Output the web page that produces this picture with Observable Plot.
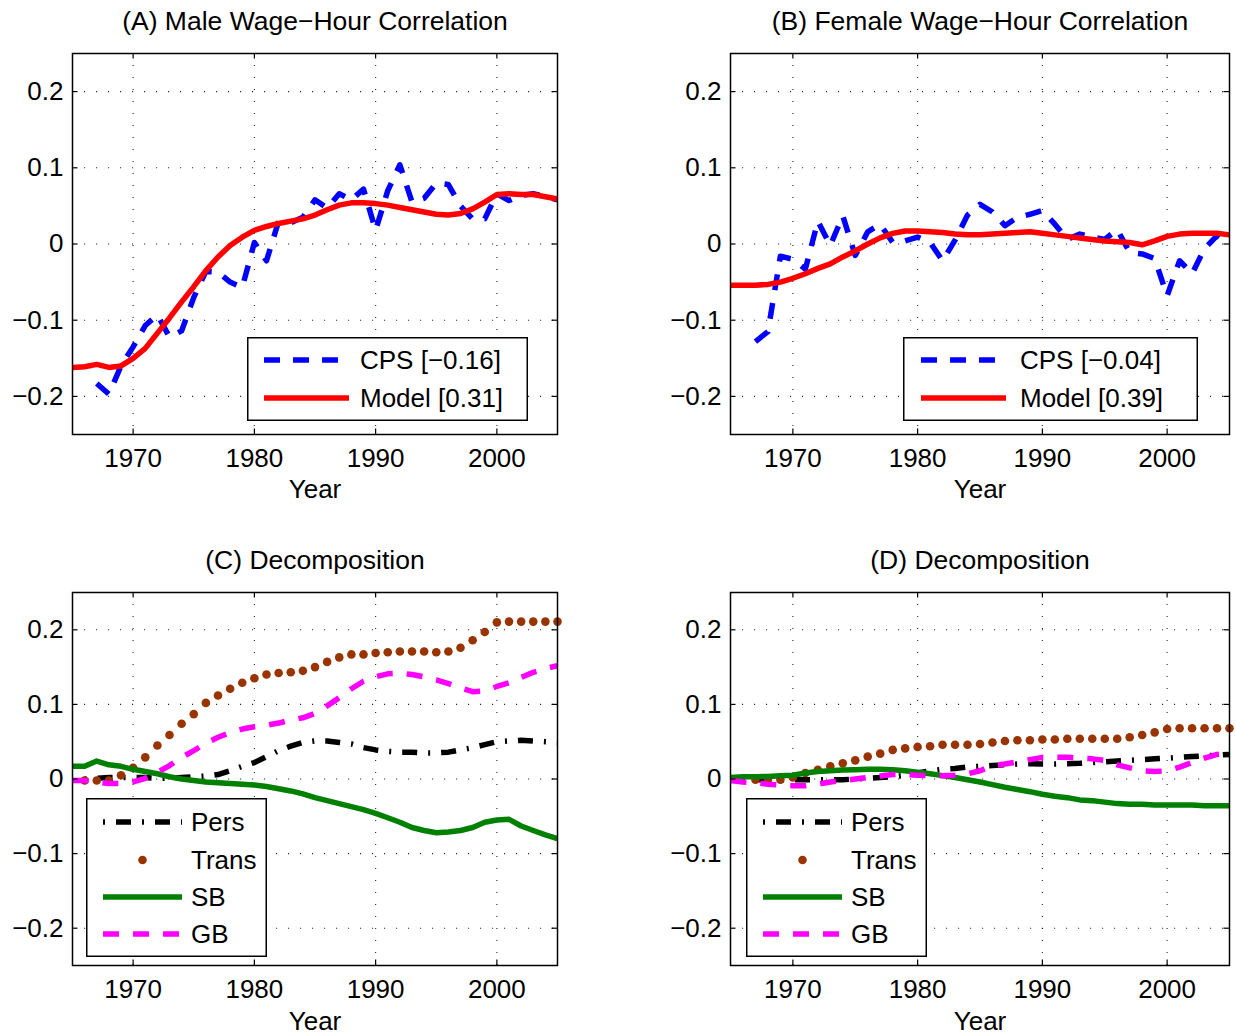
<!DOCTYPE html>
<html>
<head>
<meta charset="utf-8">
<script src="https://cdn.jsdelivr.net/npm/d3@7"></script>
<script src="https://cdn.jsdelivr.net/npm/@observablehq/plot@0.6"></script>
<style>
  html, body { margin: 0; padding: 0; background: #fff; }
  #root { position: relative; width: 1236px; height: 1034px; overflow: hidden; background: #fff;
          font-family: "Liberation Sans", Arial, Helvetica, sans-serif; }
  #root svg { position: absolute; overflow: visible; }
</style>
</head>
<body>
<div id="root"></div>
<script>
// ---------------- DATA ----------------
const years = [1965,1966,1967,1968,1969,1970,1971,1972,1973,1974,1975,1976,1977,1978,1979,
  1980,1981,1982,1983,1984,1985,1986,1987,1988,1989,1990,1991,1992,1993,1994,1995,1996,1997,
  1998,1999,2000,2001,2002,2003,2004,2005];
const xTicks = [1970, 1980, 1990, 2000];
const yTicks = [-0.2, -0.1, 0, 0.1, 0.2];

// Panel A: male wage-hour correlation
const maleCPS = [null, null, -0.183, -0.197, -0.16, -0.135, -0.107, -0.093, -0.122, -0.114,
  -0.07, -0.036, -0.037, -0.05, -0.057, 0.002, -0.022, 0.03, 0.028, 0.035,
  0.058, 0.047, 0.066, 0.058, 0.072, 0.018, 0.07, 0.104, 0.055, 0.06,
  0.08, 0.078, 0.05, 0.033, 0.033, 0.066, 0.057, 0.064, 0.066, 0.062, 0.058];
const maleModel = [-0.162, -0.161, -0.158, -0.162, -0.160, -0.150, -0.137, -0.117, -0.097, -0.076,
  -0.056, -0.035, -0.017, -0.002, 0.009, 0.018, 0.023, 0.027, 0.030, 0.033,
  0.038, 0.045, 0.051, 0.054, 0.054, 0.053, 0.051, 0.048, 0.045, 0.042,
  0.039, 0.038, 0.040, 0.046, 0.055, 0.065, 0.066, 0.065, 0.065, 0.062, 0.059];

// Panel B: female wage-hour correlation
const femaleCPS = [null, null, -0.128, -0.115, -0.016, -0.02, -0.033, 0.030, -0.002, 0.037,
  -0.015, 0.016, 0.026, 0.002, 0.004, 0.009, 0.002, -0.022, 0.005, 0.038,
  0.052, 0.042, 0.024, 0.035, 0.039, 0.044, 0.026, 0.006, 0.013, 0.009,
  0.006, 0.019, -0.011, -0.013, -0.019, -0.068, -0.022, -0.039, -0.006, 0.011, 0.0];
const femaleModel = [-0.054, -0.054, -0.054, -0.053, -0.050, -0.045, -0.039, -0.032, -0.026, -0.017,
  -0.009, 0.000, 0.008, 0.014, 0.017, 0.017, 0.016, 0.015, 0.013, 0.012,
  0.012, 0.013, 0.014, 0.015, 0.016, 0.014, 0.012, 0.010, 0.008, 0.006,
  0.004, 0.003, 0.002, -0.001, 0.004, 0.010, 0.013, 0.014, 0.014, 0.014, 0.012];

// Panel C: decomposition (male)
const cPers = [null, 0.000, 0.001, 0.002, 0.002, 0.002, 0.002, 0.001, 0.001, 0.002,
  0.003, 0.004, 0.006, 0.011, 0.017, 0.022, 0.030, 0.038, 0.044, 0.049,
  0.051, 0.051, 0.049, 0.047, 0.042, 0.039, 0.037, 0.036, 0.036, 0.035,
  0.035, 0.036, 0.039, 0.042, 0.046, 0.050, 0.051, 0.052, 0.051, 0.050, 0.049];
const cTrans = [null, -0.002, -0.002, -0.002, 0.005, 0.015, 0.029, 0.045, 0.059, 0.074,
  0.087, 0.102, 0.112, 0.121, 0.129, 0.135, 0.140, 0.142, 0.143, 0.145,
  0.150, 0.157, 0.163, 0.167, 0.167, 0.169, 0.170, 0.171, 0.171, 0.171,
  0.170, 0.171, 0.176, 0.186, 0.197, 0.210, 0.211, 0.211, 0.211, 0.211, 0.211];
const cSB = [0.017, 0.017, 0.024, 0.019, 0.017, 0.013, 0.010, 0.007, 0.003, 0.000,
  -0.002, -0.004, -0.005, -0.006, -0.007, -0.008, -0.010, -0.013, -0.016, -0.020,
  -0.025, -0.029, -0.033, -0.037, -0.041, -0.046, -0.052, -0.058, -0.065, -0.069,
  -0.072, -0.071, -0.069, -0.065, -0.058, -0.055, -0.054, -0.063, -0.069, -0.075, -0.080];
const cGB = [-0.002, -0.002, -0.004, -0.006, -0.006, -0.004, 0.001, 0.009, 0.018, 0.029,
  0.038, 0.048, 0.056, 0.062, 0.067, 0.070, 0.072, 0.075, 0.079, 0.082,
  0.088, 0.098, 0.109, 0.121, 0.131, 0.137, 0.141, 0.142, 0.140, 0.137,
  0.133, 0.128, 0.122, 0.117, 0.118, 0.124, 0.129, 0.136, 0.143, 0.148, 0.152];

// Panel D: decomposition (female)
const dPers = [null, -0.001, -0.001, -0.001, -0.001, -0.001, -0.001, -0.001, -0.001, -0.001,
  0.000, 0.001, 0.002, 0.003, 0.005, 0.008, 0.011, 0.013, 0.014, 0.016,
  0.017, 0.018, 0.019, 0.020, 0.0205, 0.020, 0.020, 0.0205, 0.021, 0.022,
  0.023, 0.024, 0.025, 0.026, 0.027, 0.028, 0.029, 0.030, 0.031, 0.032, 0.033];
const dTrans = [null, null, -0.001, -0.001, -0.001, 0.002, 0.008, 0.0125, 0.017, 0.021,
  0.025, 0.030, 0.034, 0.039, 0.041, 0.043, 0.044, 0.046, 0.046, 0.046,
  0.047, 0.049, 0.051, 0.052, 0.052, 0.053, 0.053, 0.054, 0.054, 0.054,
  0.054, 0.054, 0.056, 0.059, 0.0625, 0.067, 0.068, 0.068, 0.068, 0.068, 0.068];
const dSB = [0.002, 0.003, 0.003, 0.0035, 0.0045, 0.005, 0.008, 0.010, 0.011, 0.012,
  0.0125, 0.013, 0.013, 0.0125, 0.011, 0.009, 0.007, 0.0045, 0.002, -0.001,
  -0.004, -0.0076, -0.011, -0.014, -0.017, -0.0205, -0.023, -0.025, -0.028, -0.029,
  -0.031, -0.033, -0.034, -0.034, -0.035, -0.035, -0.035, -0.035, -0.036, -0.036, -0.036];
const dGB = [-0.002, -0.004, -0.005, -0.007, -0.008, -0.009, -0.009, -0.007, -0.004, -0.002,
  0.000, 0.002, 0.004, 0.006, 0.006, 0.005, 0.0045, 0.0045, 0.005, 0.007,
  0.011, 0.018, 0.020, 0.023, 0.026, 0.029, 0.029, 0.029, 0.028, 0.027,
  0.025, 0.019, 0.015, 0.011, 0.010, 0.011, 0.016, 0.022, 0.028, 0.033, 0.035];

const titles = ["(A) Male Wage\u2212Hour Correlation", "(B) Female Wage\u2212Hour Correlation",
  "(C) Decomposition", "(D) Decomposition"];
const topLegendLabelsA = ["CPS [\u22120.16]", "Model [0.31]"];
const topLegendLabelsB = ["CPS [\u22120.04]", "Model [0.39]"];
const decompLabels = ["Pers", "Trans", "SB", "GB"];

// ---------------- STYLES ----------------
const FONT = '"Liberation Sans", Arial, Helvetica, sans-serif';
const FS = 26;
const TFS = 26.5;
const LW = 5.5;
const styles = {
  CPS:   {type: "line", stroke: "#0000ff", dash: "16,13"},
  Model: {type: "line", stroke: "#ff0000", dash: null},
  Pers:  {type: "line", stroke: "#000000", dash: "2,11,15,11"},
  Trans: {type: "dot",  fill: "#993300"},
  SB:    {type: "line", stroke: "#008000", dash: null},
  GB:    {type: "line", stroke: "#ff00ff", dash: "16,14"}
};

const root = document.getElementById("root");
const toRows = vals => years.map((y, i) => ({year: y, value: vals[i]})).filter(d => d.value != null);
const yFmt = d => d === 0 ? "0" : d3.format(".1f")(d);

function seriesMark(vals, st) {
  const data = toRows(vals);
  if (st.type === "dot") {
    return Plot.dot(data, {x: "year", y: "value", r: 4.3, fill: st.fill, stroke: "none"});
  }
  return Plot.line(data, {x: "year", y: "value", stroke: st.stroke, strokeWidth: LW,
    strokeDasharray: st.dash || undefined, strokeLinecap: "butt", strokeLinejoin: "round"});
}

function panel({title, series, left, top, marginLeft, marginRight, marginTop, marginBottom, yearDy}) {
  const W = 618, H = 517;
  const plotW = W - marginLeft - marginRight, plotH = H - marginTop - marginBottom;
  const tx = 5.5 * 40 / plotW;      // inward tick length in data units (x)
  const ty = 5.5 * 0.5 / plotH;     // inward tick length in data units (y)
  const gridStyle = {stroke: "#000", strokeOpacity: 0.85, strokeWidth: 1.1, strokeDasharray: "1.1,10.9"};
  const svg = Plot.plot({
    width: W, height: H, marginLeft, marginRight, marginTop, marginBottom,
    style: {fontFamily: FONT, fontSize: FS + "px", color: "#000", background: "transparent", overflow: "visible"},
    x: {domain: [1965, 2005]},
    y: {domain: [-0.25, 0.25]},
    marks: [
      Plot.gridX(xTicks, gridStyle),
      Plot.gridY(yTicks, gridStyle),
      ...series.map(([vals, st]) => seriesMark(vals, st)),
      Plot.ruleX(xTicks, {x: d => d, y1: -0.25, y2: -0.25 + ty, stroke: "#000", strokeWidth: 1.2}),
      Plot.ruleX(xTicks, {x: d => d, y1: 0.25, y2: 0.25 - ty, stroke: "#000", strokeWidth: 1.2}),
      Plot.ruleY(yTicks, {y: d => d, x1: 1965, x2: 1965 + tx, stroke: "#000", strokeWidth: 1.2}),
      Plot.ruleY(yTicks, {y: d => d, x1: 2005, x2: 2005 - tx, stroke: "#000", strokeWidth: 1.2}),
      Plot.frame({stroke: "#000", strokeWidth: 1.5}),
      Plot.axisX(xTicks, {tickSize: 0, tickPadding: 14, tickFormat: d3.format("d"), label: null, fontSize: FS}),
      Plot.axisY(yTicks, {tickSize: 0, tickPadding: 9, tickFormat: yFmt, label: null, fontSize: FS}),
      Plot.text(["Year"], {text: d => d, frameAnchor: "bottom", dy: yearDy, lineAnchor: "top", fontSize: FS, fill: "#000"}),
      Plot.text([title], {text: d => d, frameAnchor: "top", dy: -42, lineAnchor: "top", fontSize: TFS, fill: "#000"})
    ]
  });
  svg.style.left = left + "px";
  svg.style.top = top + "px";
  root.appendChild(svg);
}

function legend({entries, left, top, width, height, rows, x1, x2, textX}) {
  const svg = d3.select(root).append("svg")
    .attr("width", width).attr("height", height)
    .style("left", left + "px").style("top", top + "px");
  svg.append("rect").attr("x", 0.75).attr("y", 0.75)
    .attr("width", width - 1.5).attr("height", height - 1.5)
    .attr("fill", "#fff").attr("stroke", "#000").attr("stroke-width", 1.5);
  entries.forEach(([label, st], i) => {
    const y = rows[i];
    if (st.type === "dot") {
      svg.append("circle").attr("cx", (x1 + x2) / 2).attr("cy", y).attr("r", 4.3).attr("fill", st.fill);
    } else {
      svg.append("line").attr("x1", x1).attr("x2", x2).attr("y1", y).attr("y2", y)
        .attr("stroke", st.stroke).attr("stroke-width", LW)
        .attr("stroke-dasharray", st.dash || null).attr("stroke-linecap", "butt");
    }
    svg.append("text").attr("x", textX).attr("y", y).attr("dy", "0.36em")
      .attr("font-family", FONT).attr("font-size", FS).attr("fill", "#000").text(label);
  });
}

// ---------------- PANELS ----------------
const topM = {marginTop: 53, marginBottom: 83, yearDy: 45};
const botM = {marginTop: 75, marginBottom: 69, yearDy: 46};
const leftM = {marginLeft: 72, marginRight: 61};
const rightM = {marginLeft: 112, marginRight: 7};

panel({title: titles[0], left: 0, top: 0, ...topM, ...leftM,
  series: [[maleCPS, styles.CPS], [maleModel, styles.Model]]});
panel({title: titles[1], left: 618, top: 0, ...topM, ...rightM,
  series: [[femaleCPS, styles.CPS], [femaleModel, styles.Model]]});
panel({title: titles[2], left: 0, top: 517, ...botM, ...leftM,
  series: [[cPers, styles.Pers], [cTrans, styles.Trans], [cSB, styles.SB], [cGB, styles.GB]]});
panel({title: titles[3], left: 618, top: 517, ...botM, ...rightM,
  series: [[dPers, styles.Pers], [dTrans, styles.Trans], [dSB, styles.SB], [dGB, styles.GB]]});

// ---------------- LEGENDS ----------------
legend({entries: [[topLegendLabelsA[0], styles.CPS], [topLegendLabelsA[1], styles.Model]],
  left: 247, top: 337, width: 281, height: 84, rows: [23, 61], x1: 17, x2: 102, textX: 113});
legend({entries: [[topLegendLabelsB[0], styles.CPS], [topLegendLabelsB[1], styles.Model]],
  left: 903, top: 337, width: 295, height: 84, rows: [23, 61], x1: 18, x2: 103, textX: 117});
const decompEntries = decompLabels.map(l => [l, styles[l]]);
legend({entries: decompEntries, left: 86, top: 798, width: 181, height: 159,
  rows: [24, 62, 99, 136], x1: 17, x2: 96, textX: 105});
legend({entries: decompEntries, left: 746, top: 798, width: 181, height: 159,
  rows: [24, 62, 99, 136], x1: 17, x2: 96, textX: 105});
</script>
</body>
</html>
